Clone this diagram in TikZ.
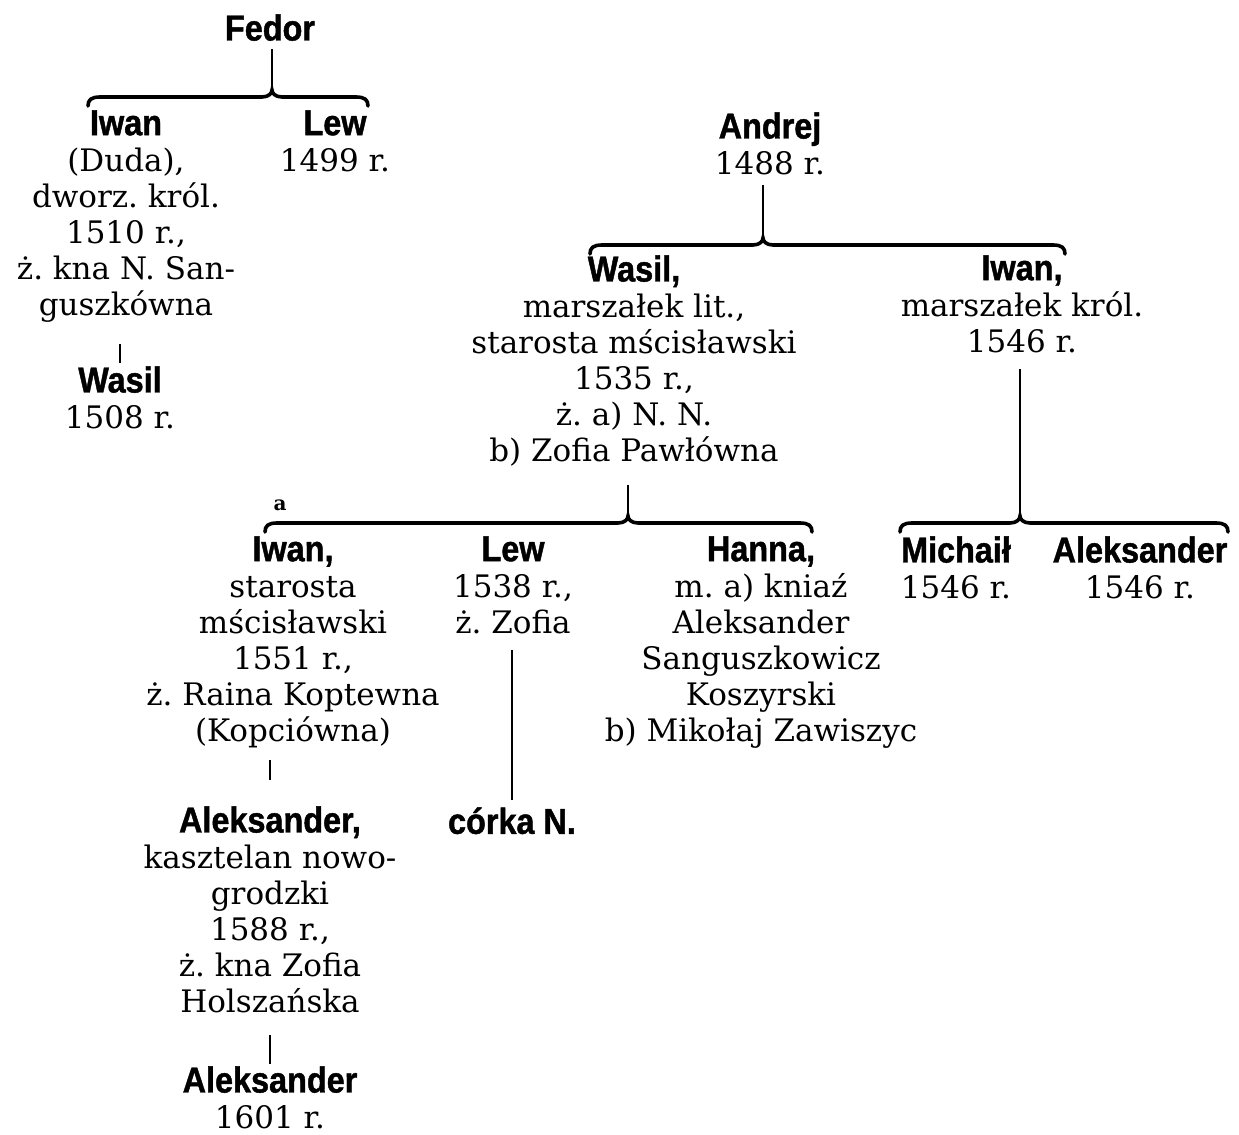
\documentclass[tikz,border=0pt]{standalone}
\usepackage{fontspec}
\setmainfont{DejaVu Serif}
\newfontfamily\namefont[FakeStretch=0.9, FakeBold=1.2]{Liberation Sans}
\usetikzlibrary{calc}
\frenchspacing
\newcommand\nm[1]{{\namefont\bfseries\fontsize{18}{18}\selectfont #1}}
\newcommand\kinbrace[3]{%
  \draw[brace] ($(#1)+(0,9)$) .. controls ($(#1)+(0,3)$) and ($(#1)+(3,0)$) .. ($(#1)+(12,0)$)
    -- ($(#2 |- #1)+(-10,0)$) .. controls ($(#2 |- #1)+(-3,0)$) and ($(#2)+(0,3)$) .. (#2)
    .. controls ($(#2)+(0,3)$) and ($(#2 |- #1)+(3,0)$) .. ($(#2 |- #1)+(10,0)$)
    -- ($(#3)+(-12,0)$) .. controls ($(#3)+(-3,0)$) and ($(#3)+(0,3)$) .. ($(#3)+(0,9)$);}

\begin{document}
\begin{tikzpicture}[
    x=0.5pt, y=-0.5pt,
    person/.style={align=center, inner sep=0pt, anchor=north, font=\fontsize{15.5}{18}\selectfont},
    brace/.style={line width=1.8pt, line cap=round},
    stem/.style={line width=0.8pt}
]
\fill[white] (0,0) rectangle (1239,1135);
\useasboundingbox (0,0) rectangle (1239,1135);

\node[person] (fedor) at (270,14) {\nm{Fedor}};
\node[person] (iwanF) at (126,110) {\nm{Iwan}\\(Duda),\\dworz. król.\\1510 r.,\\ż. kna N. San-\\guszkówna};
\node[person] (lewF) at (335,110) {\nm{Lew}\\1499 r.};
\node[person] (wasilF) at (120,366) {\nm{Wasil}\\1508 r.};

\node[person] (andrej) at (770,112) {\nm{Andrej}\\1488 r.};
\node[person] (wasil) at (634,255) {\nm{Wasil,}\\marszałek lit.,\\starosta mścisławski\\1535 r.,\\ż. a) N. N.\\b) Zofia Pawłówna};
\node[person] (iwanA) at (1022,255) {\nm{Iwan,}\\marszałek król.\\1546 r.};

\node[person] (iwanW) at (293,536) {\nm{Iwan,}\\starosta\\mścisławski\\1551 r.,\\ż. Raina Koptewna\\(Kopciówna)};
\node[person] (lewW) at (513,536) {\nm{Lew}\\1538 r.,\\ż. Zofia};
\node[person] (hanna) at (761,536) {\nm{Hanna,}\\m. a) kniaź\\Aleksander\\Sanguszkowicz\\Koszyrski\\b) Mikołaj Zawiszyc};
\node[person] (michail) at (956,536) {\nm{Michaił}\\1546 r.};
\node[person] (aleksI) at (1140,536) {\nm{Aleksander}\\1546 r.};

\node[person] (aleksW) at (270,806) {\nm{Aleksander,}\\kasztelan nowo-\\grodzki\\1588 r.,\\ż. kna Zofia\\Holszańska};
\node[person] (corka) at (512,807) {\nm{córka N.}};
\node[person] (aleksA) at (270,1066) {\nm{Aleksander}\\1601 r.};

\node[font=\fontsize{10}{10}\selectfont\bfseries, inner sep=0pt] (wifea) at (280,505) {a};

\coordinate (fedorL) at (88,97);
\coordinate (fedorT) at (272,90);
\coordinate (fedorR) at (368,97);
\coordinate (andrejL) at (590,245);
\coordinate (andrejT) at (763,238);
\coordinate (andrejR) at (1065,245);
\coordinate (wasilL) at (265,523);
\coordinate (wasilT) at (628,516);
\coordinate (wasilR) at (812,523);
\coordinate (iwanL) at (900,523);
\coordinate (iwanT) at (1020,516);
\coordinate (iwanR) at (1228,523);

\kinbrace{fedorL}{fedorT}{fedorR}
\kinbrace{andrejL}{andrejT}{andrejR}
\kinbrace{wasilL}{wasilT}{wasilR}
\kinbrace{iwanL}{iwanT}{iwanR}

\draw[stem, shorten <=4pt] (fedor.south -| fedorT) -- (fedorT);
\draw[stem, shorten <=5pt] (andrej.south -| andrejT) -- (andrejT);
\draw[stem, shorten <=9pt] (wasil.south -| wasilT) -- (wasilT);
\draw[stem, shorten <=8pt] (iwanA.south -| iwanT) -- (iwanT);
\draw[stem, shorten <=11pt, shorten >=1.5pt] (iwanF.south -| wasilF.north) -- (wasilF.north);
\draw[stem, shorten <=6pt, shorten >=13pt] (iwanW.south -| aleksW.north) -- (aleksW.north);
\draw[stem, shorten <=8pt, shorten >=3.5pt] (lewW.south -| corka.north) -- (corka.north);
\draw[stem, shorten <=11pt, shorten >=1pt] (aleksW.south -| aleksA.north) -- (aleksA.north);
\end{tikzpicture}
\end{document}
